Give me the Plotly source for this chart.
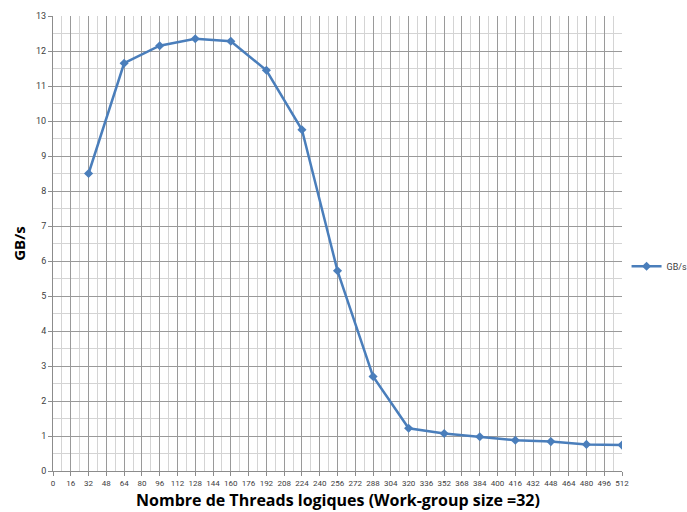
import plotly.graph_objects as go

threads = [32, 64, 96, 128, 160, 192, 224, 256, 288, 320, 352, 384, 416, 448, 480, 512]
gbps = [8.5, 11.65, 12.15, 12.35, 12.28, 11.45, 9.75, 5.72, 2.7, 1.22, 1.07, 0.98, 0.88, 0.84, 0.76, 0.74]

FONT = "Roboto"
BLUE = "#4A7EBB"

fig = go.Figure()

fig.add_trace(go.Scatter(
    x=threads,
    y=gbps,
    mode="lines+markers",
    name="GB/s",
    line=dict(color=BLUE, width=2.5),
    marker=dict(symbol="diamond", size=7, color=BLUE),
))

# x title as an annotation so it sits below the tick labels like the original
fig.add_annotation(
    text="<b>Nombre de Threads logiques (Work-group size =32)</b>",
    xref="paper", yref="paper", x=0.5, y=0,
    xanchor="center", yanchor="top", yshift=-16,
    showarrow=False,
    font=dict(family="Open Sans", size=16, color="#000000"),
)

fig.update_layout(
    width=687,
    height=512,
    margin=dict(l=53, r=65, t=16, b=41, autoexpand=False),
    plot_bgcolor="white",
    paper_bgcolor="white",
    font=dict(family=FONT, color="#404040"),
    showlegend=True,
    legend=dict(x=1.008, y=0.45, xanchor="left", yanchor="middle",
                itemwidth=30,
                font=dict(size=9, color="#404040"), bgcolor="rgba(0,0,0,0)"),
    xaxis=dict(
        range=[0, 512],
        tickmode="linear", tick0=0, dtick=16,
        tickangle=0,
        tickfont=dict(size=8, color="#404040"),
        showgrid=True, gridcolor="#9a9a9a", gridwidth=1,
        minor=dict(dtick=8, showgrid=True, gridcolor="#d4d4d4", gridwidth=1),
        showline=True, linecolor="#8c8c8c", linewidth=1,
        ticks="outside", ticklen=4, tickcolor="#8c8c8c",
        zeroline=False,
        automargin=False,
    ),
    yaxis=dict(
        range=[0, 13],
        tickmode="linear", tick0=0, dtick=1,
        tickfont=dict(size=9, color="#404040"),
        showgrid=True, gridcolor="#9a9a9a", gridwidth=1,
        minor=dict(dtick=0.5, showgrid=True, gridcolor="#d4d4d4", gridwidth=1),
        showline=True, linecolor="#8c8c8c", linewidth=1,
        ticks="outside", ticklen=4, tickcolor="#8c8c8c",
        zeroline=False,
        automargin=False,
        title=dict(text="<b>GB/s</b>", font=dict(family="Open Sans", size=15, color="#000000"),
                   standoff=6),
    ),
)

# drop the default 8px page margin so the figure fills the window exactly
fig.write_html(
    "out.html",
    config={"displayModeBar": False},
    post_script="document.body.style.margin = '0';",
)
